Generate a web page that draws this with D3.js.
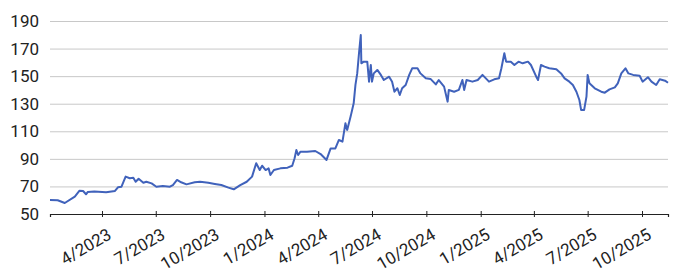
<!DOCTYPE html>
<html>
<head>
<meta charset="utf-8">
<script src="https://cdn.jsdelivr.net/npm/d3@7"></script>
<style>
  body { margin: 0; background: #fff; }
  svg text { font-family: Roboto, "Noto Sans", sans-serif; fill: #222; }
</style>
</head>
<body>
<div id="chart"></div>
<script>
// values
const dates = [
  "2023-01-03","2023-01-16","2023-01-28","2023-02-14","2023-02-22","2023-02-28","2023-03-05","2023-03-08",
  "2023-03-19","2023-04-08","2023-04-23","2023-04-28","2023-05-04","2023-05-11","2023-05-18","2023-05-24",
  "2023-05-28","2023-06-02","2023-06-10","2023-06-15","2023-06-24","2023-07-02","2023-07-13","2023-07-25",
  "2023-07-30","2023-08-06","2023-08-13","2023-08-22","2023-09-05","2023-09-14","2023-09-28","2023-10-09",
  "2023-10-20","2023-11-01","2023-11-10","2023-11-21","2023-12-02","2023-12-11","2023-12-18","2023-12-24",
  "2023-12-28","2024-01-03","2024-01-08","2024-01-11","2024-01-17","2024-01-28","2024-02-09","2024-02-17",
  "2024-02-21","2024-02-24","2024-02-27","2024-03-02","2024-03-13","2024-03-27","2024-04-05","2024-04-15",
  "2024-04-22","2024-04-30","2024-05-06","2024-05-12","2024-05-17","2024-05-20","2024-05-26","2024-05-31",
  "2024-06-03","2024-06-06","2024-06-09","2024-06-12","2024-06-13","2024-06-17","2024-06-23","2024-06-26",
  "2024-06-29","2024-07-01","2024-07-04","2024-07-10","2024-07-16","2024-07-21","2024-07-30","2024-08-04",
  "2024-08-08","2024-08-13","2024-08-17","2024-08-21","2024-08-27","2024-09-02","2024-09-07","2024-09-16",
  "2024-09-21","2024-09-30","2024-10-08","2024-10-17","2024-10-22","2024-10-31","2024-11-06","2024-11-08",
  "2024-11-17","2024-11-25","2024-12-01","2024-12-04","2024-12-08","2024-12-18","2024-12-27","2025-01-04",
  "2025-01-15","2025-01-24","2025-02-01","2025-02-05","2025-02-10","2025-02-13","2025-02-21","2025-02-27",
  "2025-03-06","2025-03-13","2025-03-22","2025-03-27","2025-04-05","2025-04-08","2025-04-13","2025-04-19",
  "2025-04-27","2025-05-09","2025-05-17","2025-05-23","2025-05-31","2025-06-06","2025-06-12","2025-06-17",
  "2025-06-20","2025-06-25","2025-06-29","2025-07-01","2025-07-04","2025-07-13","2025-07-24","2025-07-30",
  "2025-08-07","2025-08-16","2025-08-21","2025-08-27","2025-09-03","2025-09-08","2025-09-16","2025-09-27",
  "2025-10-02","2025-10-11","2025-10-17","2025-10-25","2025-10-31","2025-11-09","2025-11-14"
];
const values = [
  60.2,60.0,58.0,62.6,66.9,66.7,64.3,66.0,
  66.4,65.7,66.7,69.4,69.8,77.1,75.9,76.3,
  73.4,75.6,72.7,73.4,72.2,69.8,70.3,69.8,
  71.0,74.7,73.0,71.5,73.0,73.4,72.7,71.8,
  71.0,69.1,67.9,71.0,73.4,77.1,86.8,81.9,
  85.0,81.9,83.1,78.3,81.9,83.1,83.6,85.0,
  90.4,96.4,92.8,95.2,95.2,95.7,93.5,89.2,
  97.6,97.6,103.7,102.5,115.8,111.0,121.0,130.3,
  143.6,152.0,166.6,179.8,159.3,160.5,160.5,146.0,
  158.1,146.0,152.0,154.5,150.9,147.2,149.6,146.0,
  138.7,141.2,136.3,141.2,143.6,150.9,155.7,155.7,
  152.0,148.4,148.0,144.0,147.2,142.4,131.5,140.0,
  138.7,140.0,147.2,140.0,147.2,146.0,147.2,150.9,
  146.0,147.7,148.4,155.7,166.6,160.5,160.5,158.1,
  160.5,159.3,160.5,158.1,149.6,147.2,158.1,156.9,
  155.7,155.0,152.0,148.4,146.0,143.6,138.7,132.7,
  125.4,125.4,135.1,150.9,144.8,141.2,138.7,138.0,
  140.4,141.9,144.8,152.0,155.7,152.0,150.9,150.3,
  146.0,149.2,146.0,143.6,147.7,146.7,145.2
];
const yTicks = [50, 70, 90, 110, 130, 150, 170, 190];
const xTickDates = ["2023-04-01","2023-07-01","2023-10-01","2024-01-01","2024-04-01",
  "2024-07-01","2024-10-01","2025-01-01","2025-04-01","2025-07-01","2025-10-01"];

const width = 680, height = 280;
const margin = {top: 21, right: 12, bottom: 66, left: 50};

const parse = d3.timeParse("%Y-%m-%d");
const series = dates.map((d, i) => ({date: parse(d), value: values[i]}));

const svg = d3.select("#chart").append("svg")
  .attr("width", width)
  .attr("height", height);

const x = d3.scaleTime()
  .domain(d3.extent(series, d => d.date))
  .range([margin.left, width - margin.right]);

const y = d3.scaleLinear()
  .domain([50, 190])
  .range([height - margin.bottom, margin.top]);

// horizontal grid + y labels
const yAxis = svg.append("g")
  .attr("transform", `translate(${margin.left},0)`)
  .call(d3.axisLeft(y).tickValues(yTicks)
    .tickSize(-(width - margin.left - margin.right))
    .tickPadding(11));
yAxis.select(".domain").remove();
yAxis.selectAll(".tick line").attr("stroke", "#c8c8c8");
yAxis.selectAll(".tick text").style("font-size", "17px").attr("fill", "#222");

// x axis
const xAxis = svg.append("g")
  .attr("transform", `translate(0,${height - margin.bottom})`)
  .call(d3.axisBottom(x)
    .tickValues(xTickDates.map(parse))
    .tickFormat(d3.timeFormat("%-m/%Y"))
    .tickSizeOuter(0)
    .tickSize(3));
xAxis.select(".domain").attr("stroke", "#222").attr("stroke-width", 1.2);
xAxis.selectAll(".tick line").attr("y1", -3).attr("stroke", "#222");
xAxis.selectAll(".tick text")
  .style("font-size", "17px")
  .attr("fill", "#222")
  .attr("text-anchor", "end")
  .attr("dy", null)
  .attr("y", 0)
  .attr("transform", "translate(10,24) rotate(-30)");

const line = d3.line()
  .x(d => x(d.date))
  .y(d => y(d.value));

svg.append("path")
  .datum(series)
  .attr("fill", "none")
  .attr("stroke", "#4062bb")
  .attr("stroke-width", 2)
  .attr("stroke-linejoin", "round")
  .attr("d", line);
</script>
</body>
</html>
